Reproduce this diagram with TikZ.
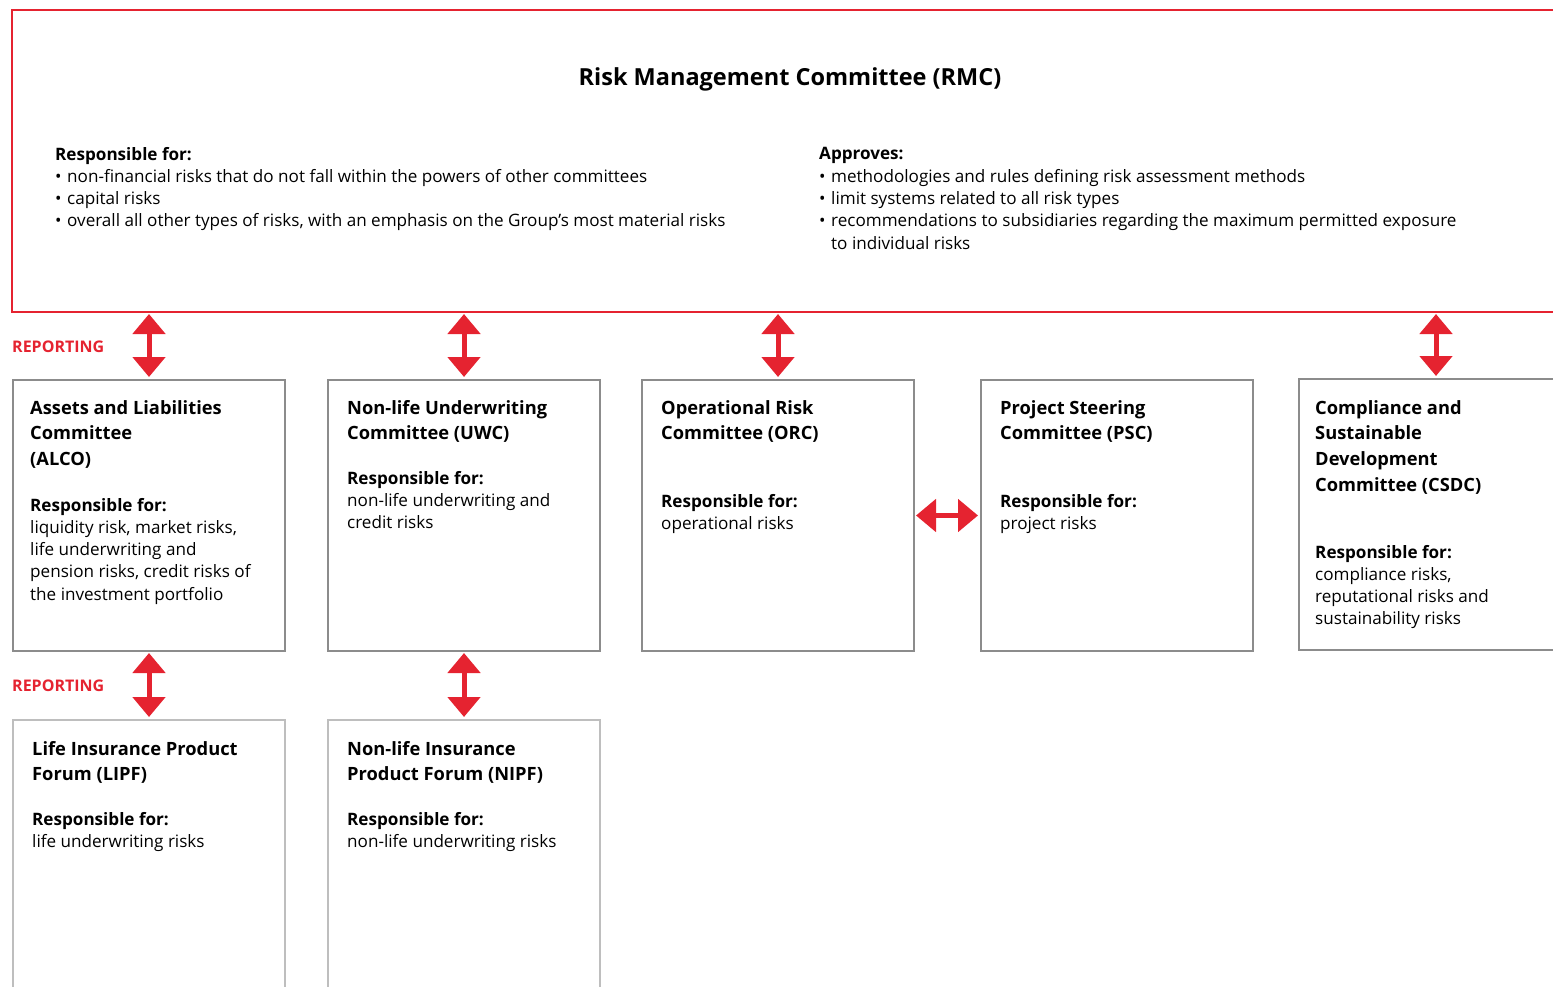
\documentclass[tikz,border=0pt]{standalone}
\usepackage{fontspec}
\setmainfont{Open Sans}
\usetikzlibrary{arrows.meta}
\definecolor{rmcred}{HTML}{E52330}
\definecolor{boxgray}{HTML}{8C8C8C}
\definecolor{lightgray2}{HTML}{BEBEBE}
\begin{document}
\begin{tikzpicture}[x=1pt,y=-1pt,
 cbox/.style={draw=boxgray, line width=2.5pt, minimum width=272pt, minimum height=271pt, anchor=north west, inner sep=0pt, outer sep=0pt},
 fbox/.style={cbox, draw=lightgray2, minimum height=320pt},
 ttl/.style={anchor=base west, align=left, font=\fontsize{18.3}{25.8}\selectfont\bfseries, inner sep=0pt},
 body/.style={anchor=base west, align=left, font=\fontsize{17.1}{22.3}\selectfont, inner sep=0pt},
 biarrow/.style={draw=rmcred, line width=5pt, {Triangle[width=32pt,length=20pt]}-{Triangle[width=32pt,length=20pt]}, shorten <=2pt, shorten >=3pt},
 rep/.style={text=rmcred, font=\fontsize{16}{16}\selectfont\bfseries, anchor=west, inner sep=0pt}]
\useasboundingbox (0,0) rectangle (1553,987);
\clip (0,0) rectangle (1553,987);
% RMC
\node[draw=rmcred, line width=2.5pt, minimum width=1560pt, minimum height=302pt, anchor=north west, inner sep=0pt, outer sep=0pt] (rmc) at (12,10) {};
\node[font=\fontsize{23.5}{28}\selectfont\bfseries] (rmctitle) at (790,79) {Risk Management Committee (RMC)};
\node[body] (rmcleft) at (55,227) {\textbf{Responsible for:}\\
\makebox[12pt][l]{•}non-financial risks that do not fall within the powers of other committees\\
\makebox[12pt][l]{•}capital risks\\
\makebox[12pt][l]{•}overall all other types of risks, with an emphasis on the Group's most material risks};
\node[body] (rmcright) at (819,249.2) {\textbf{Approves:}\\
\makebox[12pt][l]{•}methodologies and rules defining risk assessment methods\\
\makebox[12pt][l]{•}limit systems related to all risk types\\
\makebox[12pt][l]{•}recommendations to subsidiaries regarding the maximum permitted exposure\\
\hspace*{12pt}to individual risks};
% committee boxes
\node[cbox] (alco) at (13,380) {};
\node[cbox] (uwc) at (328,380) {};
\node[cbox] (orc) at (642,380) {};
\node[cbox] (psc) at (981,380) {};
\node[cbox] (csdc) at (1299,379) {};
\node[fbox] (lipf) at (13,720) {};
\node[fbox] (nipf) at (328,720) {};
% texts
\node[ttl] (alcot) at (30,465.6) {Assets and Liabilities\\Committee\\(ALCO)};
\node[body] (alcob) at (30,600.2) {\textbf{Responsible for:}\\liquidity risk, market risks,\\life underwriting and\\pension risks, credit risks of\\the investment portfolio};
\node[ttl] (uwct) at (347,439.8) {Non-life Underwriting\\Committee (UWC)};
\node[body] (uwcb) at (347,528.6) {\textbf{Responsible for:}\\non-life underwriting and\\credit risks};
\node[ttl] (orct) at (661,439.8) {Operational Risk\\Committee (ORC)};
\node[body] (orcb) at (661,529.3) {\textbf{Responsible for:}\\operational risks};
\node[ttl] (psct) at (1000,439.8) {Project Steering\\Committee (PSC)};
\node[body] (pscb) at (1000,529.3) {\textbf{Responsible for:}\\project risks};
\node[ttl] (csdct) at (1315,491.4) {Compliance and\\Sustainable\\Development\\Committee (CSDC)};
\node[body] (csdcb) at (1315,624.9) {\textbf{Responsible for:}\\compliance risks,\\reputational risks and\\sustainability risks};
\node[ttl] (lipft) at (32,780.8) {Life Insurance Product\\Forum (LIPF)};
\node[body] (lipfb) at (32,847.3) {\textbf{Responsible for:}\\life underwriting risks};
\node[ttl] (nipft) at (347,780.8) {Non-life Insurance\\Product Forum (NIPF)};
\node[body] (nipfb) at (347,847.3) {\textbf{Responsible for:}\\non-life underwriting risks};
% reporting labels
\node[rep] (rep1) at (12,347) {REPORTING};
\node[rep] (rep2) at (12,686) {REPORTING};
% arrows
\draw[biarrow] (alco.north |- rmc.south) -- (alco.north);
\draw[biarrow] (uwc.north |- rmc.south) -- (uwc.north);
\draw[biarrow] (orc.north |- rmc.south) -- (orc.north);
\coordinate (cs1) at (1436,379);
\draw[biarrow] (cs1 |- rmc.south) -- (cs1 |- csdc.north);
\draw[biarrow] (alco.south) -- (lipf.north);
\draw[biarrow] (uwc.south) -- (nipf.north);
\draw[biarrow] (orc.east) -- (psc.west);
\end{tikzpicture}
\end{document}
